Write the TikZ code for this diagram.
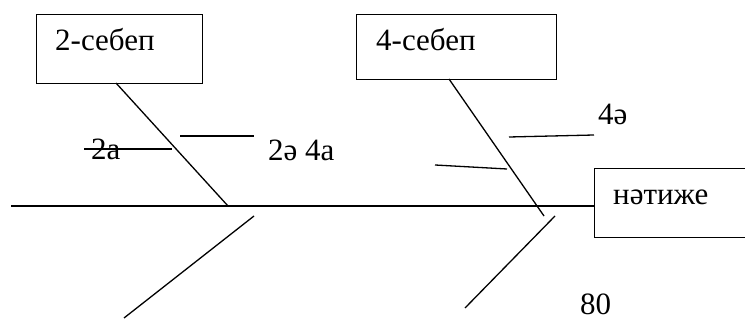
\documentclass[tikz,border=0pt]{standalone}
\usepackage{fontspec}
\setmainfont{Liberation Serif}
\begin{document}
\begin{tikzpicture}[x=1pt,y=-1pt,
  ln/.style={line width=1.3pt, black},
  boxst/.style={draw, line width=1.3pt, rectangle, anchor=north west, inner sep=0pt},
  txt/.style={anchor=base west, inner sep=0pt, font=\fontsize{31}{34}\selectfont}]
\useasboundingbox (0,0) rectangle (745,320);
% boxes
\node[boxst, minimum width=166pt, minimum height=69pt] (b1) at (36,14) {};
\node[boxst, minimum width=200pt, minimum height=65pt] (b2) at (356,14) {};
\node[boxst, minimum width=160pt, minimum height=69pt] (b3) at (594,168) {};
\node[txt] (t1) at (55,51) {2-себеп};
\node[txt] (t2) at (376,51) {4-себеп};
\node[txt] (t3) at (613,205) {нәтиже};
\node[txt] (t2a) at (91,160) {2а};
\node[txt] (t2e) at (268,161) {2ә 4а};
\node[txt] (t4e) at (598,125) {4ә};
\node[txt] (t80) at (580,315) {80};
% coordinates
\coordinate (s0) at (11,206);
\coordinate (s3) at (594,206);
\coordinate (d1a) at (116,83);
\coordinate (d1b) at (228,206);
\coordinate (d2a) at (449,79);
\coordinate (d2b) at (544,216);
\coordinate (l1a) at (254,216);
\coordinate (l1b) at (124,318);
\coordinate (l2a) at (555,216);
\coordinate (l2b) at (465,308);
\coordinate (r1a) at (84,149);
\coordinate (r1b) at (172,149);
\coordinate (r2a) at (180,136);
\coordinate (r2b) at (254,136);
\coordinate (r3a) at (509,137);
\coordinate (r3b) at (594,135);
\coordinate (r4a) at (435,165);
\coordinate (r4b) at (507,169);
% spine and bones
\draw[ln] (s0) -- (s3);
\draw[ln] (d1a) -- (d1b);
\draw[ln] (d2a) -- (d2b);
\draw[ln] (l1a) -- (l1b);
\draw[ln] (l2a) -- (l2b);
\draw[ln] (r1a) -- (r1b);
\draw[ln] (r2a) -- (r2b);
\draw[ln] (r3a) -- (r3b);
\draw[ln] (r4a) -- (r4b);
\end{tikzpicture}
\end{document}
